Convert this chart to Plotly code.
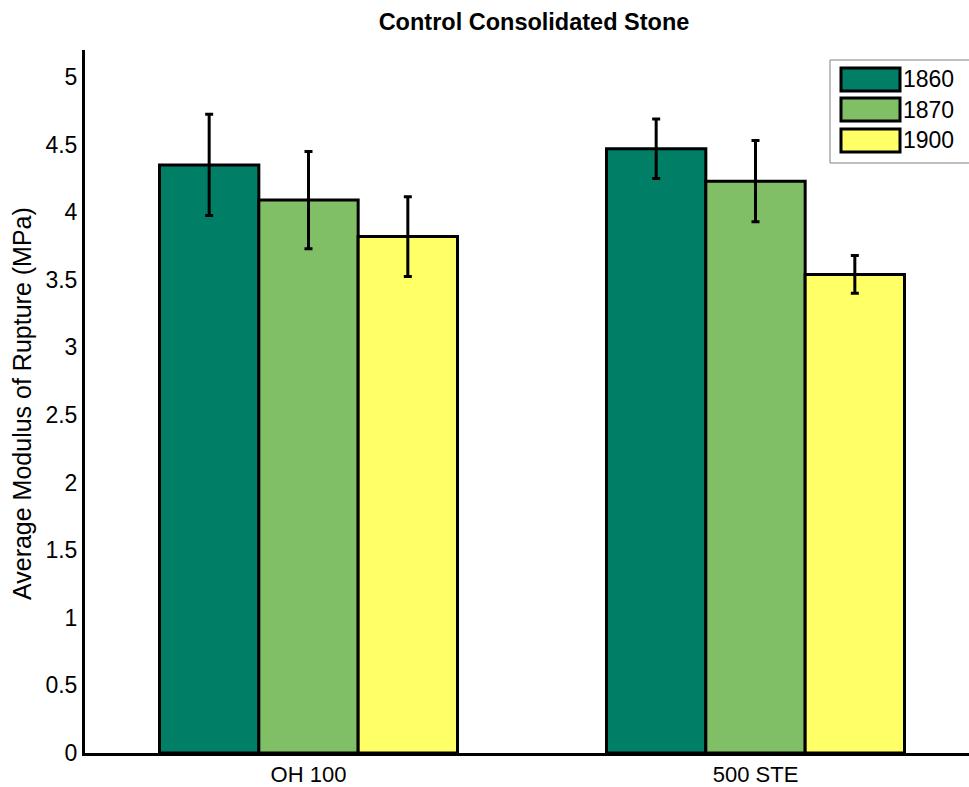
import plotly.graph_objects as go

categories = ["OH 100", "500 STE"]
series_names = ["1860", "1870", "1900"]
values_1860 = [4.35, 4.47]
values_1870 = [4.09, 4.23]
values_1900 = [3.82, 3.54]
errors_1860 = [0.375, 0.22]
errors_1870 = [0.36, 0.30]
errors_1900 = [0.295, 0.14]
colors = ["#007F66", "#80BF66", "#FFFF66"]
y_ticks = [0, 0.5, 1, 1.5, 2, 2.5, 3, 3.5, 4, 4.5, 5]
y_tick_labels = ["0", "0.5", "1", "1.5", "2", "2.5", "3", "3.5", "4", "4.5", "5"]

values = [values_1860, values_1870, values_1900]
errors = [errors_1860, errors_1870, errors_1900]

W, H = 969, 787
L, R, T, B = 85, 0, 50, 34
FONT = "Liberation Sans, Arial, sans-serif"

x_pos = list(range(1, len(categories) + 1))

fig = go.Figure()
for name, vals, errs, col in zip(series_names, values, errors, colors):
    fig.add_trace(go.Bar(
        x=x_pos, y=vals, name=name,
        marker=dict(color=col, line=dict(color="black", width=3)),
        error_y=dict(type="data", array=errs, visible=True,
                     color="black", thickness=3, width=4),
        showlegend=False,
    ))

plot_w = W - L - R
plot_h = H - T - B
px_per_unit = 447.0


def px_to_paper_x(px):
    return (px - L) / plot_w


def px_to_paper_y(py):
    return (H - B - py) / plot_h


# custom legend (MATLAB style wide swatches)
shapes = [dict(type="rect", xref="paper", yref="paper",
               x0=px_to_paper_x(830), x1=px_to_paper_x(975),
               y0=px_to_paper_y(163), y1=px_to_paper_y(60),
               line=dict(color="#808080", width=1), fillcolor="white", layer="above")]
annotations = []
row_tops = [68, 98, 129]
for name, col, top in zip(series_names, colors, row_tops):
    shapes.append(dict(type="rect", xref="paper", yref="paper",
                       x0=px_to_paper_x(841), x1=px_to_paper_x(900),
                       y0=px_to_paper_y(top + 23), y1=px_to_paper_y(top),
                       line=dict(color="black", width=3), fillcolor=col, layer="above"))
    annotations.append(dict(xref="paper", yref="paper",
                            x=px_to_paper_x(901), y=px_to_paper_y(top + 11.5),
                            xanchor="left", yanchor="middle", showarrow=False,
                            text=name, font=dict(family=FONT, size=23, color="black")))

# y-axis title placed as annotation to match position
annotations.append(dict(xref="paper", yref="paper",
                        x=px_to_paper_x(22), y=px_to_paper_y(404),
                        xanchor="center", yanchor="middle", showarrow=False,
                        textangle=-90, text="Average Modulus of Rupture (MPa)",
                        font=dict(family=FONT, size=25, color="black")))

fig.update_layout(
    width=W, height=H,
    margin=dict(l=L, r=R, t=T, b=B, pad=0, autoexpand=False),
    paper_bgcolor="white", plot_bgcolor="white",
    barmode="group", bargap=1 / 3, bargroupgap=0,
    font=dict(family=FONT, size=23, color="black"),
    title=dict(text="Control Consolidated Stone", x=534 / W, xref="container",
               xanchor="center", y=1 - 22 / H, yanchor="middle",
               font=dict(family=FONT, size=23.5, color="black", weight="bold")),
    shapes=shapes,
    annotations=annotations,
)

fig.update_xaxes(
    range=[0.5, 0.5 + plot_w / px_per_unit],
    tickmode="array", tickvals=x_pos, ticktext=categories,
    showline=True, linecolor="black", linewidth=3,
    showgrid=False, zeroline=False, ticks="",
    tickfont=dict(family=FONT, size=22), automargin=False,
)
fig.update_yaxes(
    range=[0, 5.2],
    tickmode="array", tickvals=y_ticks, ticktext=y_tick_labels,
    showline=True, linecolor="black", linewidth=3,
    showgrid=False, zeroline=False, ticks="",
    tickfont=dict(family=FONT, size=23), automargin=False,
)

fig.write_html("out.html", config={"displayModeBar": False},
               post_script="document.body.style.margin='0px';document.body.style.overflow='hidden';")
